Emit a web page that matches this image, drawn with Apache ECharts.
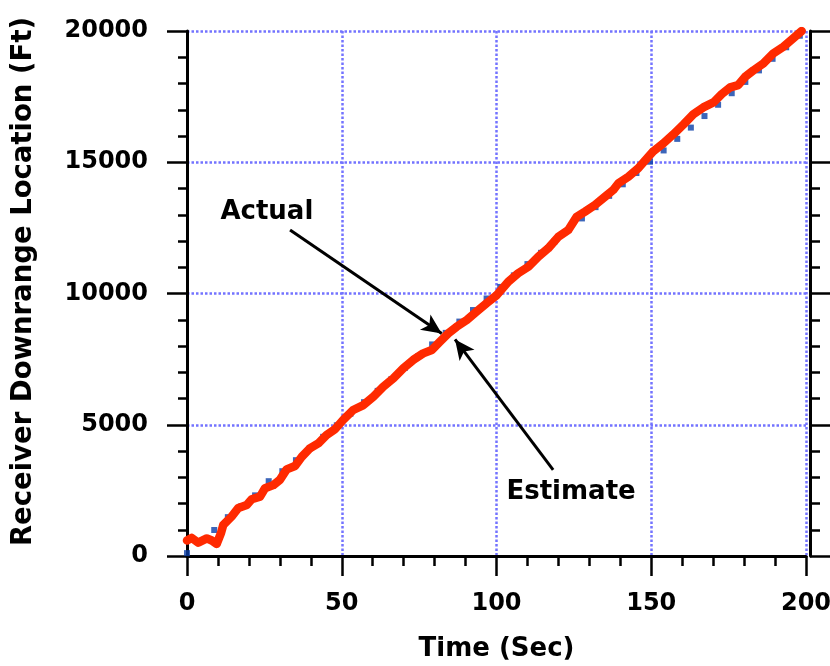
<!DOCTYPE html>
<html>
<head>
<meta charset="utf-8">
<title>Receiver Downrange Location</title>
<script src="https://cdn.jsdelivr.net/npm/echarts@6/dist/echarts.min.js"></script>
<style>
  html, body { margin: 0; padding: 0; background: #fff; }
  #chart { width: 830px; height: 666px; }
</style>
</head>
<body>
<div id="chart"></div>
<script>
// Estimated receiver track (time in s, downrange in ft)
const estimateTime = [0, 1.5, 3.6, 6.4, 8.0, 9.6, 11.0, 11.7, 14.4, 16.6, 19.3, 20.9, 23.6, 25.2, 27.9, 30.0,
  32.2, 34.9, 37.1, 39.7, 42.4, 45.1, 47.8, 50.5, 53.7, 57.0, 60.2, 63.4, 66.7, 69.9, 73.1, 76.3, 79.1,
  81.7, 84.4, 87.1, 90.4, 93.6, 96.8, 100.1, 103.8, 107.0, 110.3, 113.5, 116.7, 120.0, 123.2, 125.9,
  128.6, 131.8, 135.1, 137.7, 139.4, 142.6, 145.8, 149.0, 150.7, 153.9, 157.1, 160.4, 163.6, 166.8,
  170.1, 172.8, 175.5, 178.1, 180.3, 183.0, 186.2, 189.4, 192.7, 195.9, 198.6];
const estimateFt = [590, 690, 510, 670, 590, 460, 880, 1180, 1500, 1830, 1940, 2160, 2260, 2580, 2700, 2900,
  3300, 3430, 3780, 4100, 4290, 4610, 4830, 5190, 5560, 5750, 6070, 6450, 6770, 7150, 7470, 7720, 7850,
  8160, 8480, 8730, 8990, 9310, 9630, 9940, 10450, 10770, 11020, 11400, 11720, 12160, 12420, 12920,
  13120, 13370, 13690, 13940, 14200, 14450, 14770, 15200, 15420, 15720, 16060, 16440, 16830, 17090,
  17280, 17600, 17850, 17940, 18250, 18500, 18760, 19140, 19400, 19720, 20000];

// Actual receiver track, sampled positions
const actualTime = [0, 4.4, 8.8, 13.2, 17.6, 22, 26.4, 30.8, 35.2, 39.6, 44, 48.4, 52.8, 57.2, 61.6, 66,
  70.4, 74.8, 79.2, 83.6, 88, 92.4, 96.8, 101.2, 105.6, 110, 114.4, 118.8, 123.2, 127.6, 132, 136.4,
  140.8, 145.2, 149.6, 154, 158.4, 162.8, 167.2, 171.6, 176, 180.4, 184.8, 189.2, 193.6, 198];
const actualFt = [110, 570, 990, 1480, 1900, 2310, 2850, 3230, 3650, 4090, 4540, 4980, 5420, 5860, 6290, 6730,
  7170, 7620, 8060, 8500, 8930, 9370, 9810, 10250, 10690, 11120, 11550, 11990, 12420, 12860, 13290, 13720,
  14160, 14590, 15020, 15450, 15890, 16320, 16760, 17190, 17630, 18060, 18500, 18940, 19380, 19820];

const xTicks = [0, 50, 100, 150, 200];
const yTicks = [0, 5000, 10000, 15000, 20000];

// Callout texts and arrows, in data units
const calloutText = [
  { name: 'Actual', at: [25.8, 13100] },
  { name: 'Estimate', at: [124.1, 2440] }
];
const calloutArrows = [
  [[33.3, 12420], [82.3, 8480]],
  [[118.3, 3280], [86.6, 8250]]
];

const FONT = 'DejaVu Sans';
const gridDots = { color: '#7373ff', width: 2.5, type: [2.5, 2] };
const ink = { color: '#000', width: 3 };
const tickInk = { color: '#000', width: 2.5 };
const plain = v => String(v);

const chart = echarts.init(document.getElementById('chart'), null, { renderer: 'canvas' });

const pairs = (xs, ys) => xs.map((x, i) => [x, ys[i]]);

chart.setOption({
  animation: false,
  backgroundColor: '#fff',
  grid: { left: 187, right: 24, top: 31, bottom: 110, containLabel: false, outerBoundsMode: 'none' },
  xAxis: {
    type: 'value',
    min: xTicks[0],
    max: xTicks[xTicks.length - 1],
    interval: xTicks[1] - xTicks[0],
    offset: 5,
    axisLine: { show: true, lineStyle: ink },
    axisTick: { show: true, inside: false, length: 20, lineStyle: tickInk },
    minorTick: { show: true, splitNumber: 5, length: 10, lineStyle: tickInk },
    splitLine: { show: true, lineStyle: gridDots },
    axisLabel: { color: '#000', fontFamily: FONT, fontWeight: 'bold', fontSize: 24, margin: 31, formatter: plain },
    name: 'Time (Sec)',
    nameLocation: 'middle',
    nameGap: 75,
    nameTextStyle: { color: '#000', fontFamily: FONT, fontWeight: 'bold', fontSize: 26 }
  },
  yAxis: [
    {
      type: 'value',
      position: 'left',
      min: yTicks[0],
      max: yTicks[yTicks.length - 1],
      interval: yTicks[1] - yTicks[0],
      offset: 7,
      axisLine: { show: true, lineStyle: ink },
      axisTick: { show: true, inside: false, length: 20, lineStyle: tickInk },
      minorTick: { show: true, splitNumber: 5, length: 9, lineStyle: tickInk },
      splitLine: { show: true, lineStyle: gridDots },
      axisLabel: { color: '#000', fontFamily: FONT, fontWeight: 'bold', fontSize: 24, margin: 32, formatter: plain },
      name: 'Receiver Downrange Location (Ft)',
      nameLocation: 'middle',
      nameGap: 142,
      nameRotate: 90,
      nameTextStyle: {
        color: '#000', fontFamily: FONT, fontWeight: 'bold', fontSize: 27.5,
        padding: [0, 0, 0, 24]
      }
    },
    {
      type: 'value',
      position: 'right',
      min: yTicks[0],
      max: yTicks[yTicks.length - 1],
      interval: yTicks[1] - yTicks[0],
      offset: 4,
      axisLine: { show: true, lineStyle: ink },
      axisTick: { show: true, inside: false, length: 20, lineStyle: tickInk },
      minorTick: { show: true, splitNumber: 5, length: 10, lineStyle: tickInk },
      splitLine: { show: false },
      axisLabel: { show: false }
    }
  ],
  series: [
    {
      name: 'Actual',
      type: 'scatter',
      data: pairs(actualTime, actualFt),
      symbol: 'rect',
      symbolSize: 6,
      itemStyle: { color: '#0b3fa8' },
      z: 2,
      silent: true
    },
    {
      name: 'Estimate',
      type: 'line',
      data: pairs(estimateTime, estimateFt),
      showSymbol: false,
      symbol: 'none',
      smooth: false,
      lineStyle: { color: '#ff2a00', width: 8.5, cap: 'round', join: 'round' },
      z: 3,
      silent: true,
      markLine: {
        silent: true,
        symbol: ['none', 'arrow'],
        symbolSize: [14, 20],
        label: { show: false },
        lineStyle: { color: '#000', width: 3, type: 'solid' },
        data: calloutArrows.map(([a, b]) => [{ coord: a }, { coord: b }])
      },
      markPoint: {
        silent: true,
        symbol: 'circle',
        symbolSize: 0,
        label: {
          show: true,
          position: 'inside',
          formatter: '{b}',
          color: '#000',
          fontFamily: FONT,
          fontWeight: 'bold',
          fontSize: 26
        },
        data: calloutText.map(c => ({ name: c.name, coord: c.at }))
      }
    }
  ]
});
</script>
</body>
</html>
